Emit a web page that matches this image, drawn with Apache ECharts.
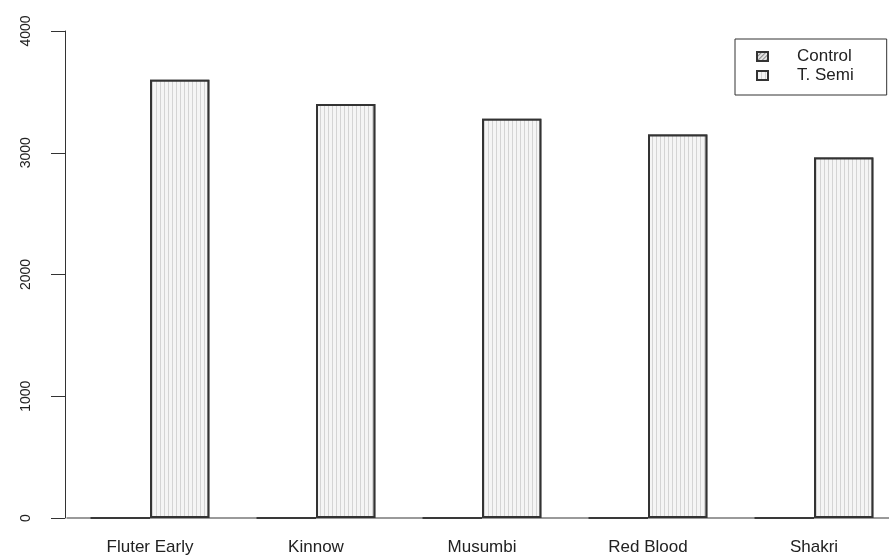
<!DOCTYPE html>
<html>
<head>
<meta charset="utf-8">
<script src="https://cdn.jsdelivr.net/npm/echarts@6/dist/echarts.min.js"></script>
<style>
  html, body { margin: 0; padding: 0; background: #ffffff; }
  #chart { width: 889px; height: 555px; }
</style>
</head>
<body>
<div id="chart"></div>
<script>
// Citrus varieties and yields per treatment
const categories = ['Fluter Early', 'Kinnow', 'Musumbi', 'Red Blood', 'Shakri'];
const controlValues = [0, 0, 0, 0, 0];
const semiValues = [3600, 3400, 3280, 3150, 2960];
const yTicks = [0, 1000, 2000, 3000, 4000];

const chart = echarts.init(document.getElementById('chart'));

const font = '"Liberation Sans", Arial, sans-serif';

chart.setOption({
  backgroundColor: '#ffffff',
  animation: false,
  textStyle: { fontFamily: font },
  // plot region runs slightly past the right edge of the canvas
  grid: {
    left: 67, width: 830, top: 31, bottom: 37,
    containLabel: false,
    outerBoundsMode: 'none'
  },
  legend: {
    orient: 'vertical',
    left: 735,
    top: 39,
    padding: [9, 33, 11, 21],
    itemGap: 2,
    itemWidth: 11,
    itemHeight: 9,
    borderColor: '#333333',
    borderWidth: 1,
    borderRadius: 0,
    icon: 'rect',
    textStyle: { fontFamily: font, fontSize: 17, color: '#222222', padding: [0, 0, 0, 24] },
    data: ['Control', 'T. Semi']
  },
  xAxis: {
    type: 'category',
    data: categories,
    axisLine: { show: true, lineStyle: { color: '#7a7a7a', width: 1.5 } },
    axisTick: { show: false },
    axisLabel: { fontFamily: font, fontSize: 17, color: '#222222', margin: 21 },
    splitLine: { show: false }
  },
  yAxis: {
    type: 'value',
    min: yTicks[0],
    max: yTicks[yTicks.length - 1],
    interval: 1000,
    offset: 2,
    axisLine: { show: true, lineStyle: { color: '#333333', width: 1 } },
    axisTick: { show: true, length: 14, lineStyle: { color: '#333333', width: 1 } },
    axisLabel: {
      rotate: 90,
      fontFamily: font,
      fontSize: 14,
      color: '#222222',
      margin: 32,
      formatter: v => String(v)
    },
    splitLine: { show: false }
  },
  series: [
    {
      name: 'Control',
      type: 'bar',
      data: controlValues,
      barGap: '0%',
      barCategoryGap: '28.5%',
      itemStyle: {
        color: '#dddddd',
        borderColor: '#333333',
        borderWidth: 1.5,
        decal: {
          symbol: 'rect',
          symbolSize: 1,
          color: '#8a8a8a',
          backgroundColor: '#e4e4e4',
          dashArrayX: [1, 0],
          dashArrayY: [1, 2],
          rotation: -Math.PI / 4
        }
      }
    },
    {
      name: 'T. Semi',
      type: 'bar',
      data: semiValues,
      barGap: '0%',
      barCategoryGap: '28.5%',
      itemStyle: {
        color: '#f4f4f4',
        borderColor: '#333333',
        borderWidth: 2,
        decal: {
          symbol: 'rect',
          symbolSize: 1,
          color: '#d4d4d4',
          backgroundColor: '#f5f5f5',
          dashArrayX: [1, 3],
          dashArrayY: [1, 0],
          rotation: 0
        }
      }
    }
  ]
});
</script>
</body>
</html>
